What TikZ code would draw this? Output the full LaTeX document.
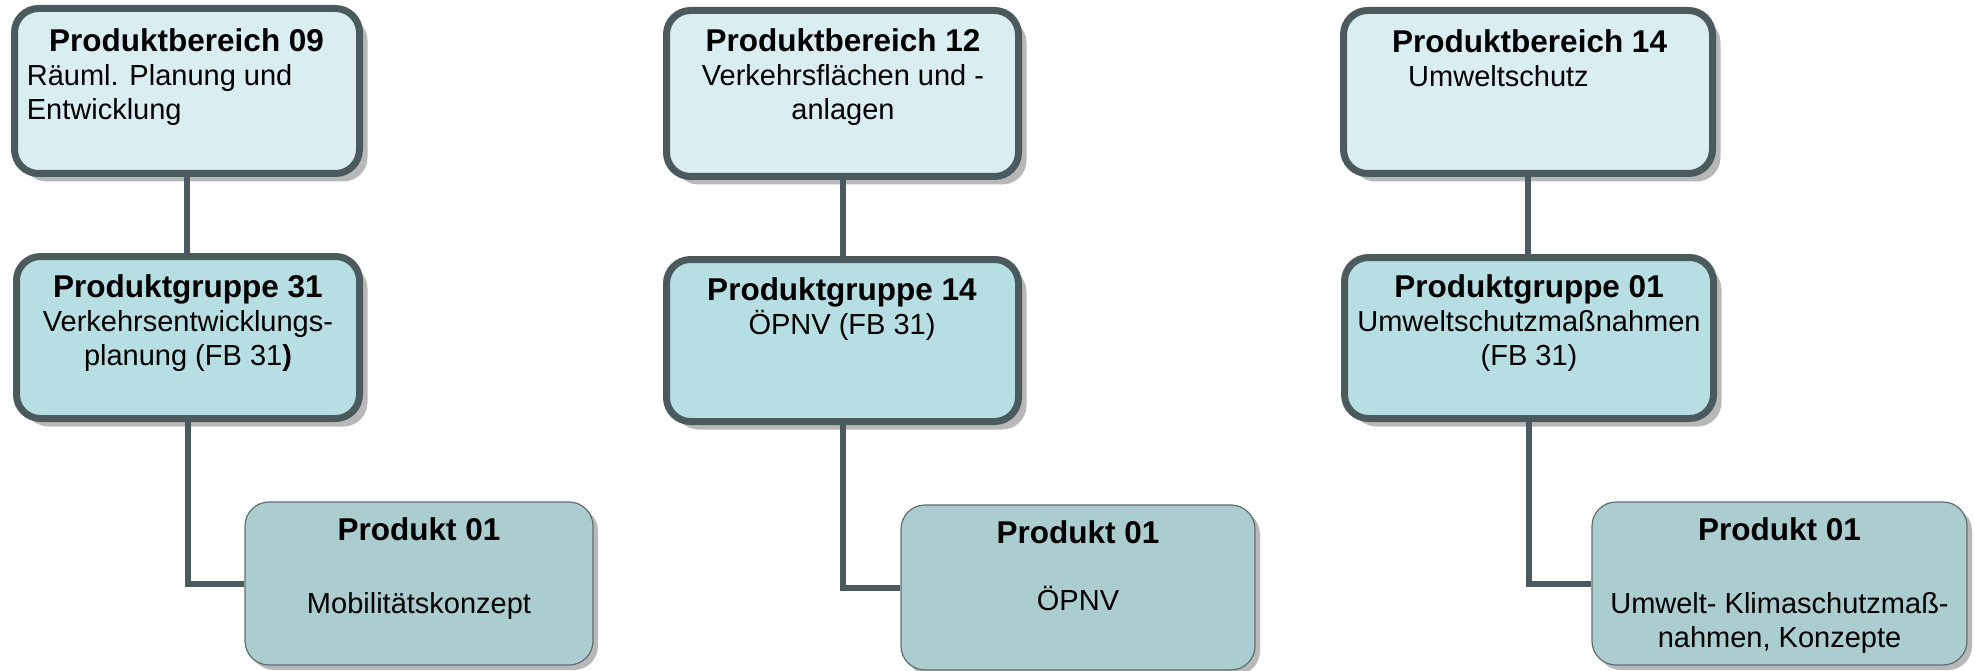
\documentclass[tikz,border=0pt]{standalone}
\usepackage{fontspec}
\setmainfont{Liberation Sans}
\usetikzlibrary{shadows}
\definecolor{bordc}{RGB}{75,90,92}
\definecolor{thinc}{RGB}{95,111,112}
\definecolor{fillA}{RGB}{218,237,241}
\definecolor{fillB}{RGB}{183,222,227}
\definecolor{fillC}{RGB}{171,205,208}
\definecolor{shadc}{RGB}{184,184,184}
\newcommand\boxhead[1]{{\fontsize{31.5}{34}\selectfont\bfseries #1}}
\begin{document}
\begin{tikzpicture}[x=1pt,y=-1pt,
  tbox/.style={draw=bordc, line width=7pt, rounded corners=24pt,
    drop shadow={shadow xshift=8pt, shadow yshift=-8pt, fill=shadc, opacity=1}},
  pbox/.style={draw=thinc, line width=1.2pt, rounded corners=24pt, fill=fillC,
    drop shadow={shadow xshift=5pt, shadow yshift=-5pt, fill=shadc, opacity=1}},
  conn/.style={draw=bordc, line width=6pt},
  tt/.style={font=\fontsize{29}{34}\selectfont, inner sep=0pt, align=center, anchor=north}]
\useasboundingbox (0,0) rectangle (1975,671);
% boxes
\node[tbox, fill=fillA, minimum width=345pt, minimum height=165pt] (pb09) at (187,91) {};
\node[tbox, fill=fillB, minimum width=343pt, minimum height=162pt] (pg31) at (188,337.5) {};
\node[pbox, minimum width=348pt, minimum height=163pt] (p1) at (419,583.5) {};
\node[tbox, fill=fillA, minimum width=352pt, minimum height=166pt] (pb12) at (842.5,93.5) {};
\node[tbox, fill=fillB, minimum width=352pt, minimum height=162pt] (pg14) at (842.5,340.5) {};
\node[pbox, minimum width=354pt, minimum height=165pt] (p2) at (1078,587.5) {};
\node[tbox, fill=fillA, minimum width=369pt, minimum height=163pt] (pb14) at (1528,92) {};
\node[tbox, fill=fillB, minimum width=369pt, minimum height=161pt] (pg01) at (1529,338) {};
\node[pbox, minimum width=375pt, minimum height=163pt] (p3) at (1779.5,583.5) {};
% connectors
\draw[conn] (pb09.south) -- (pb09.south |- pg31.north);
\draw[conn] (pg31.south) |- (p1.west);
\draw[conn] (pb12.south) -- (pb12.south |- pg14.north);
\draw[conn] (pg14.south) |- (p2.west);
\draw[conn] (pb14.south) -- (pb14.south |- pg01.north);
\draw[conn] (pg01.south) |- (p3.west);
% texts
\node[tt, align=left, anchor=north west] (t1) at (26.7,28) {\hspace*{22.3pt}\boxhead{Produktbereich 09}\\Räuml. Planung und\\Entwicklung};
\node[tt] (t2) at (188,274) {\boxhead{Produktgruppe 31}\\Verkehrsentwicklungs-\\planung (FB 31\textbf{)}};
\node[tt] (t3) at (419,517) {\boxhead{Produkt 01}\\[39pt]Mobilitätskonzept};
\node[tt] (t4) at (843,28) {\boxhead{Produktbereich 12}\\Verkehrsflächen und -\\anlagen};
\node[tt] (t5) at (842,277) {\boxhead{Produktgruppe 14}\\ÖPNV (FB 31)};
\node[tt] (t6) at (1078,520) {\boxhead{Produkt 01}\\[33pt]ÖPNV};
\node[tt, align=left, anchor=north west] (t7) at (1392,29) {\boxhead{Produktbereich 14}\\\hspace*{16pt}Umweltschutz};
\node[tt] (t8) at (1529,274) {\boxhead{Produktgruppe 01}\\Umweltschutzmaßnahmen\\(FB 31)};
\node[tt] (t9) at (1779.5,517) {\boxhead{Produkt 01}\\[39pt]Umwelt- Klimaschutzmaß-\\nahmen, Konzepte};
\end{tikzpicture}
\end{document}
